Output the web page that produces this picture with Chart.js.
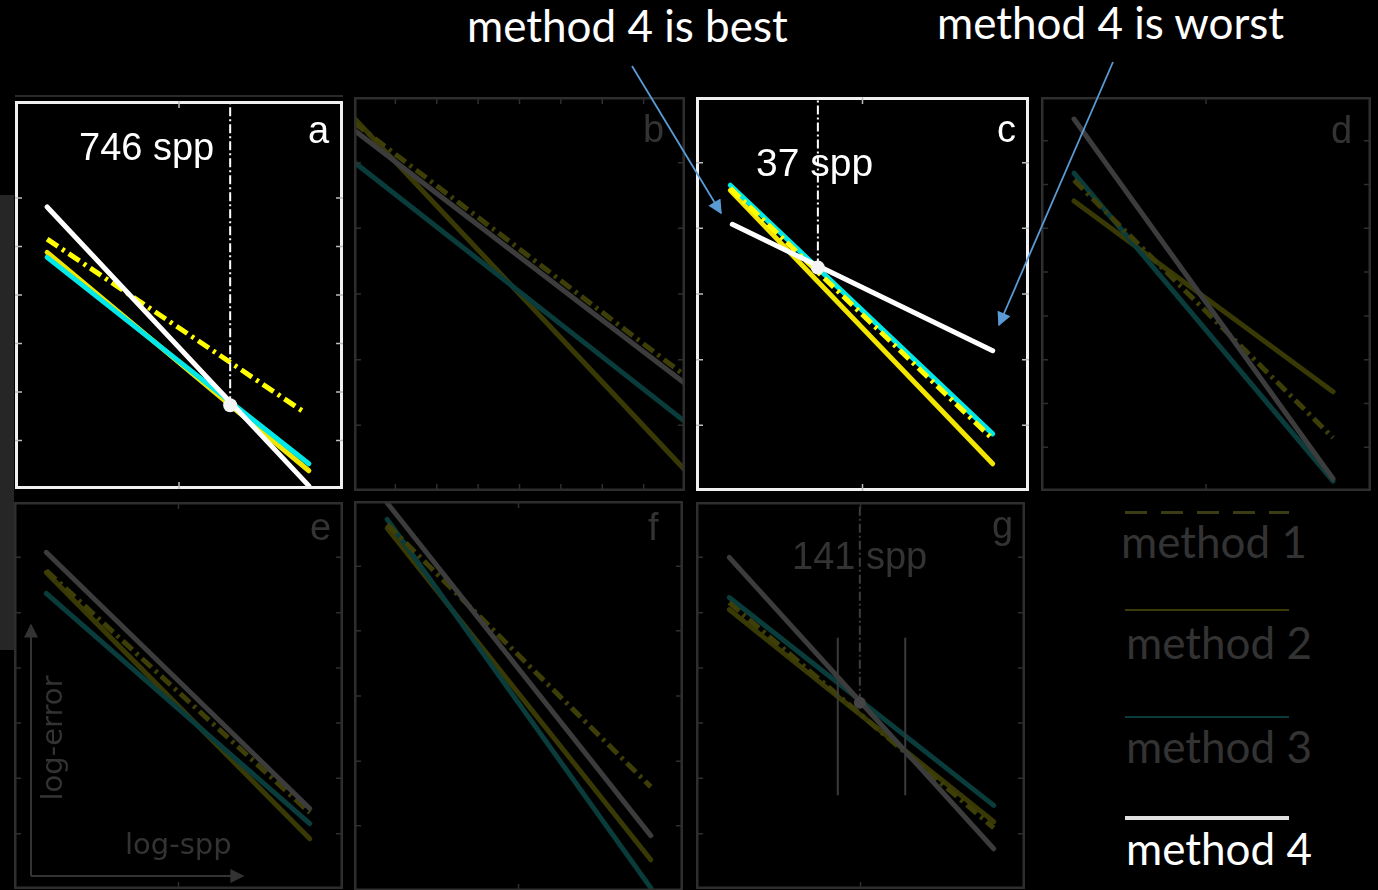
<!DOCTYPE html>
<html><head><meta charset="utf-8">
<script src="https://cdn.jsdelivr.net/npm/chart.js@4.4.1/dist/chart.umd.min.js"></script>
<style>
html,body{margin:0;padding:0;background:#000;width:1378px;height:890px;overflow:hidden;}
canvas{position:absolute;}
.t{position:absolute;white-space:nowrap;line-height:1;}
.lab{font-family:"Liberation Sans",Arial,sans-serif;}
.cal{font-family:Lato,"Open Sans",sans-serif;}
.leg{position:absolute;}
</style></head><body>
<div style="position:absolute;left:0;top:195px;width:14px;height:455px;background:#262626"></div>
<div style="position:absolute;left:15px;top:95px;width:328px;height:2px;background:#2a2a2a"></div>
<canvas id="ca" width="328" height="388" style="left:15px;top:101px"></canvas>
<canvas id="cb" width="331" height="394" style="left:354px;top:97px"></canvas>
<canvas id="cc" width="333" height="394" style="left:696px;top:97px"></canvas>
<canvas id="cd" width="330" height="394" style="left:1041px;top:97px"></canvas>
<canvas id="ce" width="329" height="387" style="left:14px;top:502px"></canvas>
<canvas id="cf" width="329" height="390" style="left:354px;top:501px"></canvas>
<canvas id="cg" width="329" height="387" style="left:696px;top:502px"></canvas>

<div class="t lab" style="left:79px;top:128px;font-size:38px;color:#fff">746 spp</div>
<div class="t lab" style="left:308px;top:111px;font-size:38px;color:#fff">a</div>
<div class="t lab" style="left:643px;top:110px;font-size:38px;color:#333">b</div>
<div class="t lab" style="left:756px;top:143px;font-size:39px;color:#fff">37 spp</div>
<div class="t lab" style="left:997px;top:110px;font-size:38px;color:#fff">c</div>
<div class="t lab" style="left:1331px;top:111px;font-size:38px;color:#333">d</div>
<div class="t lab" style="left:310px;top:508px;font-size:38px;color:#333">e</div>
<div class="t lab" style="left:648px;top:508px;font-size:38px;color:#333">f</div>
<div class="t lab" style="left:992px;top:506px;font-size:38px;color:#333">g</div>
<div class="t lab" style="left:792px;top:537px;font-size:38px;color:#333">141 spp</div>

<div class="t" style="font-family:'DejaVu Sans',sans-serif;left:125px;top:830px;font-size:29px;color:#333">log-spp</div>
<div class="t" style="font-family:'DejaVu Sans',sans-serif;left:52px;top:738px;font-size:29px;color:#333;transform:translate(-50%,-50%) rotate(-90deg);">log-error</div>

<div class="t cal" style="left:467px;top:3px;font-size:44px;color:#fff">method 4 is best</div>
<div class="t cal" style="left:937px;top:0px;font-size:44px;color:#fff">method 4 is worst</div>

<div class="leg" style="left:1125px;top:511px;width:164px;height:3px;background:repeating-linear-gradient(90deg,#3c3c14 0 22px,transparent 22px 36px)"></div>
<div class="t cal" style="left:1121px;top:519px;font-size:44px;color:#333">method 1</div>
<div class="leg" style="left:1125px;top:609px;width:164px;height:2px;background:#3a3a0a"></div>
<div class="t cal" style="left:1126px;top:620px;font-size:44px;color:#333">method 2</div>
<div class="leg" style="left:1125px;top:716px;width:164px;height:2px;background:#0c3b3b"></div>
<div class="t cal" style="left:1126px;top:724px;font-size:44px;color:#333">method 3</div>
<div class="leg" style="left:1125px;top:816px;width:164px;height:4px;background:#e0e0e0"></div>
<div class="t cal" style="left:1126px;top:826px;font-size:44px;color:#fff">method 4</div>

<svg style="position:absolute;left:0;top:0" width="1378" height="890">
<defs><marker id="ah" viewBox="0 0 10 10" refX="9" refY="5" markerUnits="userSpaceOnUse" markerWidth="16" markerHeight="14" orient="auto-start-reverse"><path d="M0,0 L10,5 L0,10 z" fill="#5b9bd5"/></marker></defs>
<line x1="632" y1="66" x2="721" y2="213" stroke="#5b9bd5" stroke-width="1.8" marker-end="url(#ah)"/>
<line x1="1113" y1="62" x2="999" y2="325" stroke="#5b9bd5" stroke-width="1.8" marker-end="url(#ah)"/>
</svg>

<script>
// panels a..g ; values in panel units (x: log-spp 0..100, y: log-error 0..100)
const panels = ['a','b','c','d','e','f','g'];
const methods = ['method 1','method 2','method 3','method 4'];
const highlighted = [true,false,true,false,false,false,false];
// each entry: [xStart, yStart, xEnd, yEnd]
const method1 = [[9.8,64.4,88.7,19.5],[0,93.5,99.7,29.5],[10.3,76.8,89.1,13.2],[10,78.9,88.5,13.5],[9.8,82.3,89.9,19.7],[10.1,94.0,90.2,26.7],[10.1,74.0,90.5,15.8]];
const method2 = [[9.8,61.0,89.6,4.7],[0,94.7,99.7,5.6],[10.3,76.3,89.1,6.9],[10,73.6,88.5,25.2],[9.8,81.8,89.9,13.0],[10.1,93.0,90.2,8.0],[10.1,72.2,90.5,17.4]];
const method3 = [[9.8,59.7,89.6,6.5],[0,83.5,99.7,17.8],[10.3,77.6,89.1,14.5],[10,80.7,88.5,2.5],[9.8,76.4,89.9,16.9],[10.1,95.3,90.2,0.8],[10.1,75.3,90.5,21.6]];
const method4 = [[9.8,72.7,89.6,0.8],[0,91.6,99.7,27.5],[10.9,67.7,89.1,35.6],[10,94.4,88.5,3.1],[9.8,87.0,89.9,20.8],[10.1,99.5,90.2,14.2],[10.1,85.7,90.5,10.4]];
// crossover sample counts and their positions
const sppValue = [746,null,37,null,null,null,141];
const sppX = [65.6,null,36.6,null,null,null,49.8];
const sppY = [21.6,null,56.7,null,null,null,48.1];
// panel g error bars: [x, yTop, yBottom]
const errBarsG = [[43.1,64.9,24.2],[63.6,64.9,24.2]];
// inner tick positions
const xTicks = [[50],[12.5,25,37.5,50,62.5,75,87.5],[50],[50],[50],[50],[50]];
const yTicks = [[12.5,25,37.5,50,62.5,75],[16.7,33.3,50,66.7,83.3],[16.7,33.3,50,66.7,83.3],[11.1,22.2,33.3,44.4,55.6,66.7,77.8,88.9],[14.3,28.6,42.9,57.1,71.4,85.7],[16.7,33.3,50,66.7,83.3],[14.3,28.6,42.9,57.1,71.4,85.7]];

const brightColors = ['#ffff00','#f2e600','#00e8e8','#ffffff'];
const dimColors = ['#3e3e08','#393906','#0a3c3c','#3c3c3c'];

const framePlugin = {
  id:'frame',
  afterDatasetsDraw(chart, args, opts){
    const {ctx, chartArea:a, scales} = chart;
    ctx.save();
    ctx.strokeStyle = opts.color; ctx.lineWidth = opts.width;
    const h = opts.width/2;
    ctx.strokeRect(a.left+h, a.top+h, a.right-a.left-opts.width, a.bottom-a.top-opts.width);
    ctx.strokeStyle = opts.tickColor; ctx.lineWidth = 1.5;
    ctx.beginPath();
    (opts.xTicks||[]).forEach(v=>{const x=scales.x.getPixelForValue(v);ctx.moveTo(x,a.top);ctx.lineTo(x,a.top+7);ctx.moveTo(x,a.bottom);ctx.lineTo(x,a.bottom-7);});
    (opts.yTicks||[]).forEach(v=>{const y=scales.y.getPixelForValue(v);ctx.moveTo(a.left,y);ctx.lineTo(a.left+7,y);ctx.moveTo(a.right,y);ctx.lineTo(a.right-7,y);});
    ctx.stroke();
    ctx.restore();
  }
};

panels.forEach((p,i)=>{
  const bright = highlighted[i];
  const col = bright ? brightColors : dimColors;
  const series = [method1,method2,method3,method4];
  const orders = [1,3,2,0];
  const datasets = series.map((m,k)=>({
    label: methods[k],
    data:[{x:m[i][0],y:m[i][1]},{x:m[i][2],y:m[i][3]}],
    borderColor: col[k], borderWidth: 5,
    borderDash: k===0 ? [13,5,3,5] : [],
    borderCapStyle: k===0 ? 'butt':'round',
    pointRadius:0, order: orders[k]
  }));
  if (sppX[i] !== null) {
    const vc = bright ? '#ffffff' : '#3c3c3c';
    datasets.push({label:sppValue[i]+' spp', data:[{x:sppX[i],y:sppY[i]},{x:sppX[i],y:100}], borderColor:vc, borderWidth:2, borderDash:[9,3,2,3], pointRadius:0, order:-1});
    datasets.push({label:'cross', data:[{x:sppX[i],y:sppY[i]}], showLine:false, pointRadius:bright?7:6, pointBackgroundColor: bright?'#f4f4f4':'#444', pointBorderWidth:0, order:-2});
  }
  if (p==='g') {
    errBarsG.forEach(b=>datasets.push({label:'bar', data:[{x:b[0],y:b[1]},{x:b[0],y:b[2]}], borderColor:'#3a3a3a', borderWidth:2, pointRadius:0, order:-1}));
  }
  new Chart(document.getElementById('c'+p), {
    type:'line',
    data:{datasets},
    options:{
      responsive:false, animation:false, events:[],
      layout:{padding:0, autoPadding:false},
      scales:{x:{type:'linear',min:0,max:100,display:false},y:{type:'linear',min:0,max:100,display:false}},
      plugins:{legend:{display:false},tooltip:{enabled:false},
        frame:{color: bright?'#f0f0f0':'#2e2e2e', width: bright?3:2.5, tickColor: bright?'#bbbbbb':'#2e2e2e', xTicks:xTicks[i], yTicks:yTicks[i]}}
    },
    plugins:[framePlugin]
  });
});
</script>
<svg style="position:absolute;left:0;top:0;pointer-events:none" width="400" height="890">
<defs><marker id="ga" viewBox="0 0 10 10" refX="9" refY="5" markerUnits="userSpaceOnUse" markerWidth="16" markerHeight="14" orient="auto-start-reverse"><path d="M0,0 L10,5 L0,10 z" fill="#333"/></marker></defs>
<polyline points="31,876 31,625" fill="none" stroke="#333" stroke-width="2" marker-end="url(#ga)"/>
<polyline points="31,876 243,876" fill="none" stroke="#333" stroke-width="2" marker-end="url(#ga)"/>
</svg>
</body></html>
